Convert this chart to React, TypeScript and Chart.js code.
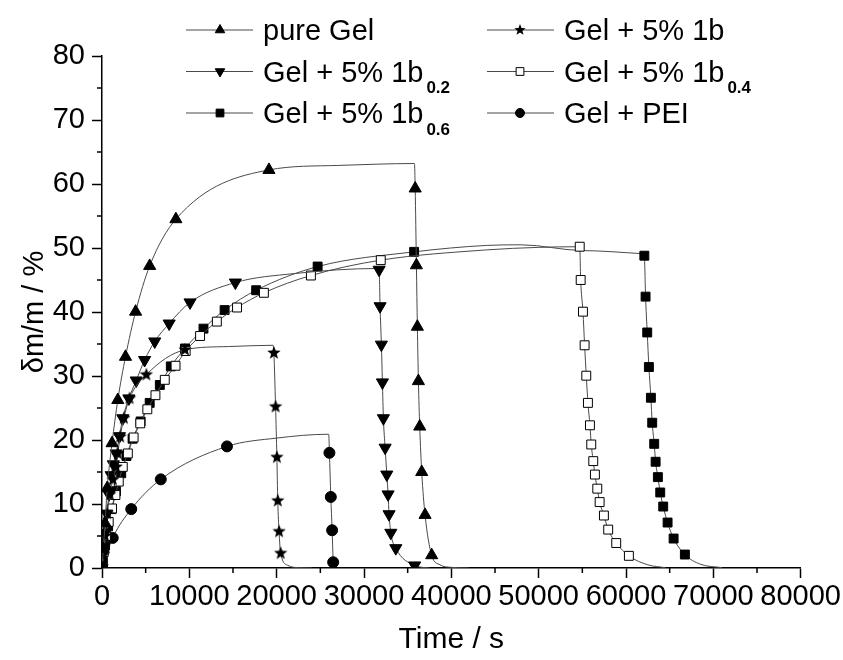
import React, { useEffect, useRef } from 'react';
import { Chart, registerables } from 'chart.js';

Chart.register(...registerables);

const FONT = "'Liberation Sans', Arial, Helvetica, sans-serif";

// axis ticks
const xTicks = [0, 10000, 20000, 30000, 40000, 50000, 60000, 70000, 80000];
const yTicks = [0, 10, 20, 30, 40, 50, 60, 70, 80];
const xMinor = [5000, 15000, 25000, 35000, 45000, 55000, 65000, 75000];
const yMinor = [5, 15, 25, 35, 45, 55, 65, 75];

// pure Gel (markers)
const pureGelX = [0, 150, 350, 600, 1150, 1810, 2690, 3850, 5460, 8460, 19115, 35860, 36000, 36110, 36230, 36380, 36610, 36990, 37750];
const pureGelY = [0, 3, 7, 12.5, 19.5, 26.25, 33.0, 40.05, 47.2, 54.5, 62.2, 59.3, 47.3, 37.7, 29.2, 22.1, 15.0, 8.3, 2.0];
// pure Gel (curve-only points)
const pureGelLineX = [27000, 35780, 38700, 40000, 42000];
const pureGelLineY = [62.9, 63.2, 0.5, 0.1, 0];

// Gel + 5% 1b0.2
const b02X = [0, 150, 350, 550, 800, 1050, 1300, 1620, 2000, 2380, 3080, 3920, 4880, 6040, 7690, 10080, 15270, 31730, 31840, 31990, 32110, 32220, 32420, 32610, 32760, 32870, 33070, 33640, 35800];
const b02Y = [0, 2.5, 5.5, 8.5, 11.5, 14.5, 16.2, 17.9, 20.6, 23.4, 26.5, 29.3, 32.5, 35.4, 38.2, 41.5, 44.6, 46.6, 40.9, 34.9, 29.0, 23.4, 18.8, 14.6, 11.5, 8.4, 5.5, 3.1, 0.4];
const b02LineX = [22000, 31650, 37500];
const b02LineY = [46.0, 46.8, 0];

// Gel + 5% 1b
const b1X = [0, 150, 350, 600, 900, 1250, 1620, 1810, 2080, 2500, 3150, 5080, 9500, 19680, 19875, 20025, 20125, 20275, 20455];
const b1Y = [0, 2, 5, 8.5, 11.5, 13.8, 15.8, 17.9, 20.5, 23.4, 26.5, 30.2, 34.1, 33.6, 25.2, 17.3, 10.5, 5.7, 2.3];
const b1LineX = [14500, 19600, 21300, 22500, 24000];
const b1LineY = [34.6, 34.8, 0.4, 0.05, 0];

// Gel + 5% 1b0.4
const b04X = [0, 200, 450, 770, 1150, 1540, 1920, 2380, 2960, 3620, 4380, 5190, 6120, 7190, 8420, 9580, 11230, 13150, 15460, 18540, 23920, 31920, 54700, 54810, 55070, 55260, 55450, 55640, 55870, 56020, 56250, 56440, 56710, 56980, 57470, 57960, 58880, 60330];
const b04Y = [0, 2.5, 5, 7.2, 9.3, 11.4, 13.5, 15.8, 17.9, 20.4, 22.6, 24.8, 27.0, 29.4, 31.6, 33.9, 36.25, 38.5, 40.7, 43.0, 45.7, 48.1, 50.2, 45.0, 40.05, 34.8, 30.05, 25.8, 22.3, 19.3, 16.7, 14.6, 12.4, 10.3, 8.2, 6.0, 3.9, 1.9];
const b04LineX = [44000, 50000, 62500, 64500];
const b04LineY = [49.7, 50.1, 0.5, 0.05];

// Gel + 5% 1b0.6
const b06X = [0, 100, 350, 700, 1100, 1600, 2200, 2800, 3500, 4420, 5460, 6620, 7880, 9500, 11620, 14040, 17650, 24690, 35740, 62100, 62240, 62430, 62620, 62850, 63000, 63230, 63390, 63650, 63920, 64260, 64760, 65450, 66740];
const b06Y = [0, 1, 3.5, 6.5, 9.2, 12, 14.8, 17.5, 20.2, 22.9, 25.8, 28.6, 31.5, 34.3, 37.4, 40.3, 43.4, 47.1, 49.4, 48.8, 42.4, 36.8, 31.4, 26.6, 22.7, 19.4, 16.6, 14.2, 11.8, 9.6, 7.1, 4.6, 2.1];
const b06LineX = [44000, 48000, 55000, 62000, 68500, 71000];
const b06LineY = [50.4, 50.5, 49.6, 49.1, 0.6, 0.05];

// Gel + PEI
const peiX = [0, 1230, 3350, 6730, 14310, 26040, 26200, 26350, 26470];
const peiY = [0, 4.7, 9.2, 13.85, 19.0, 18.0, 11.1, 5.9, 0.9];
const peiLineX = [20000, 25960];
const peiLineY = [20.3, 20.9];

type Pt = { x: number; y: number; m: boolean };

function build(mx: number[], my: number[], lx: number[], ly: number[]): Pt[] {
  const pts: Pt[] = mx.map((x, i) => ({ x, y: my[i], m: true }))
    .concat(lx.map((x, i) => ({ x, y: ly[i], m: false })));
  pts.sort((a, b) => a.x - b.x);
  return pts;
}

function makeStar(r: number): HTMLCanvasElement {
  const c = document.createElement('canvas');
  const s = Math.ceil(r * 2 + 2);
  c.width = s;
  c.height = s;
  const g = c.getContext('2d')!;
  g.fillStyle = '#000';
  g.beginPath();
  for (let i = 0; i < 10; i++) {
    const a = -Math.PI / 2 + (i * Math.PI) / 5;
    const rr = i % 2 === 0 ? r : r * 0.42;
    g.lineTo(s / 2 + rr * Math.cos(a), s / 2 + rr * Math.sin(a));
  }
  g.closePath();
  g.fill();
  return c;
}

const LINE_COLOR = '#4a4a4a';

function drawMarker(ctx: CanvasRenderingContext2D, style: string, x: number, y: number, r: number, rot: number, fill: string) {
  ctx.beginPath();
  if (style === 'triangle') {
    let rad = (rot * Math.PI) / 180;
    ctx.moveTo(x + Math.sin(rad) * r, y - Math.cos(rad) * r);
    rad += (2 * Math.PI) / 3;
    ctx.lineTo(x + Math.sin(rad) * r, y - Math.cos(rad) * r);
    rad += (2 * Math.PI) / 3;
    ctx.lineTo(x + Math.sin(rad) * r, y - Math.cos(rad) * r);
    ctx.closePath();
  } else if (style === 'rect') {
    const h = r * Math.SQRT1_2;
    ctx.rect(x - h, y - h, 2 * h, 2 * h);
  } else {
    ctx.arc(x, y, r, 0, Math.PI * 2);
  }
  ctx.fillStyle = fill;
  ctx.fill();
  ctx.stroke();
}

export default function App() {
  const ref = useRef<HTMLCanvasElement | null>(null);

  useEffect(() => {
    const canvas = ref.current;
    if (!canvas) return;
    const starBig = makeStar(7);
    const starSmall = makeStar(6);

    const series = [
      { label: 'pure Gel', sub: '', data: build(pureGelX, pureGelY, pureGelLineX, pureGelLineY), style: 'triangle' as any, rot: 0, r: 7, fill: '#000' },
      { label: 'Gel + 5% 1b', sub: '', data: build(b1X, b1Y, b1LineX, b1LineY), style: starBig as any, rot: 0, r: 7, fill: '#000' },
      { label: 'Gel + 5% 1b', sub: '0.2', data: build(b02X, b02Y, b02LineX, b02LineY), style: 'triangle' as any, rot: 180, r: 7, fill: '#000' },
      { label: 'Gel + 5% 1b', sub: '0.4', data: build(b04X, b04Y, b04LineX, b04LineY), style: 'rect' as any, rot: 0, r: 6.3, fill: '#fff' },
      { label: 'Gel + 5% 1b', sub: '0.6', data: build(b06X, b06Y, b06LineX, b06LineY), style: 'rect' as any, rot: 0, r: 6.3, fill: '#000' },
      { label: 'Gel + PEI', sub: '', data: build(peiX, peiY, peiLineX, peiLineY), style: 'circle' as any, rot: 0, r: 5.5, fill: '#000' },
    ];

    const datasets = series.map((s) => ({
      label: s.label + (s.sub ? s.sub : ''),
      data: s.data as any,
      borderColor: LINE_COLOR,
      borderWidth: 1,
      cubicInterpolationMode: 'monotone' as const,
      fill: false,
      pointStyle: s.style,
      pointRotation: s.rot,
      pointRadius: (ctx: any) => (ctx.raw && ctx.raw.m ? s.r : 0),
      pointHoverRadius: (ctx: any) => (ctx.raw && ctx.raw.m ? s.r : 0),
      pointBackgroundColor: s.fill,
      pointBorderColor: '#000',
      pointBorderWidth: 1,
    }));

    // legend layout
    const legendRows = [30, 71.5, 113];
    const legendCols = [{ l0: 186, l1: 253, m: 220, t: 263 }, { l0: 487, l1: 554, m: 520, t: 564 }];

    const minorTicks = {
      id: 'minorTicks',
      afterDraw(chart: any) {
        const { ctx, chartArea, scales } = chart;
        ctx.save();
        ctx.strokeStyle = '#000';
        ctx.lineWidth = 1.5;
        ctx.beginPath();
        yMinor.forEach((v) => {
          const y = scales.y.getPixelForValue(v);
          ctx.moveTo(chartArea.left - 5, y);
          ctx.lineTo(chartArea.left, y);
        });
        xMinor.forEach((v) => {
          const x = scales.x.getPixelForValue(v);
          ctx.moveTo(x, chartArea.bottom);
          ctx.lineTo(x, chartArea.bottom + 5);
        });
        ctx.stroke();
        ctx.restore();
      },
    };

    const customLegend = {
      id: 'customLegend',
      afterDraw(chart: any) {
        const { ctx } = chart;
        ctx.save();
        series.forEach((s, k) => {
          const row = Math.floor(k / 2);
          const col = legendCols[k % 2];
          const cy = legendRows[row];
          ctx.strokeStyle = LINE_COLOR;
          ctx.lineWidth = 1;
          ctx.beginPath();
          ctx.moveTo(col.l0, cy);
          ctx.lineTo(col.l1, cy);
          ctx.stroke();
          ctx.strokeStyle = '#000';
          ctx.lineWidth = 1;
          if (s.style === starBig) {
            ctx.drawImage(starSmall, col.m - starSmall.width / 2, cy - starSmall.height / 2);
          } else {
            const r = s.style === 'circle' ? 4.5 : 5.5;
            drawMarker(ctx, s.style, col.m, cy, r, s.rot, s.fill);
          }
          ctx.fillStyle = '#000';
          ctx.textBaseline = 'alphabetic';
          ctx.textAlign = 'left';
          ctx.font = `29px ${FONT}`;
          const base = cy + 10.4;
          ctx.fillText(s.label, col.t, base);
          if (s.sub) {
            const w = ctx.measureText(s.label).width;
            ctx.font = `bold 17px ${FONT}`;
            ctx.fillText(s.sub, col.t + w + 3, base + 11.5);
          }
        });
        ctx.restore();
      },
    };

    const chart = new Chart(canvas, {
      type: 'line',
      data: { datasets: datasets as any },
      options: {
        animation: false,
        responsive: false,
        devicePixelRatio: 1,
        layout: { padding: { top: 56, right: 42, bottom: 0, left: 0 } },
        plugins: {
          legend: { display: false },
          tooltip: { enabled: false },
        },
        elements: { line: { tension: 0 } },
        scales: {
          x: {
            type: 'linear',
            min: 0,
            max: 80000,
            afterBuildTicks: (s: any) => {
              s.ticks = xTicks.map((v) => ({ value: v }));
            },
            afterFit: (s: any) => {
              s.height = 92;
            },
            ticks: {
              font: { family: FONT, size: 29 },
              color: '#000',
              padding: 2,
              maxRotation: 0,
              autoSkip: false,
              callback: (v: any) => String(v),
            },
            grid: { display: true, drawOnChartArea: false, drawTicks: true, tickLength: 10, tickColor: '#000', tickWidth: 1.5 },
            border: { display: true, color: '#000', width: 1.5 },
            title: { display: true, text: 'Time / s', font: { family: FONT, size: 30 }, color: '#000', padding: { top: 0, bottom: 2 } },
          },
          y: {
            type: 'linear',
            min: 0,
            max: 80,
            afterBuildTicks: (s: any) => {
              s.ticks = yTicks.map((v) => ({ value: v }));
            },
            afterFit: (s: any) => {
              s.width = 102;
            },
            ticks: {
              font: { family: FONT, size: 29 },
              color: '#000',
              padding: 7,
              callback: (v: any) => String(v),
            },
            grid: { display: true, drawOnChartArea: false, drawTicks: true, tickLength: 10, tickColor: '#000', tickWidth: 1.5 },
            border: { display: true, color: '#000', width: 1.5 },
            title: { display: true, text: 'δm/m / %', font: { family: FONT, size: 29 }, color: '#000', padding: { top: 18, bottom: 0 } },
          },
        },
      },
      plugins: [minorTicks, customLegend],
    });

    return () => {
      chart.destroy();
    };
  }, []);

  return (
    <div style={{ position: 'absolute', left: 0, top: 0, width: 843, height: 660, background: '#fff' }}>
      <canvas ref={ref} width={843} height={660} style={{ display: 'block' }} />
    </div>
  );
}
